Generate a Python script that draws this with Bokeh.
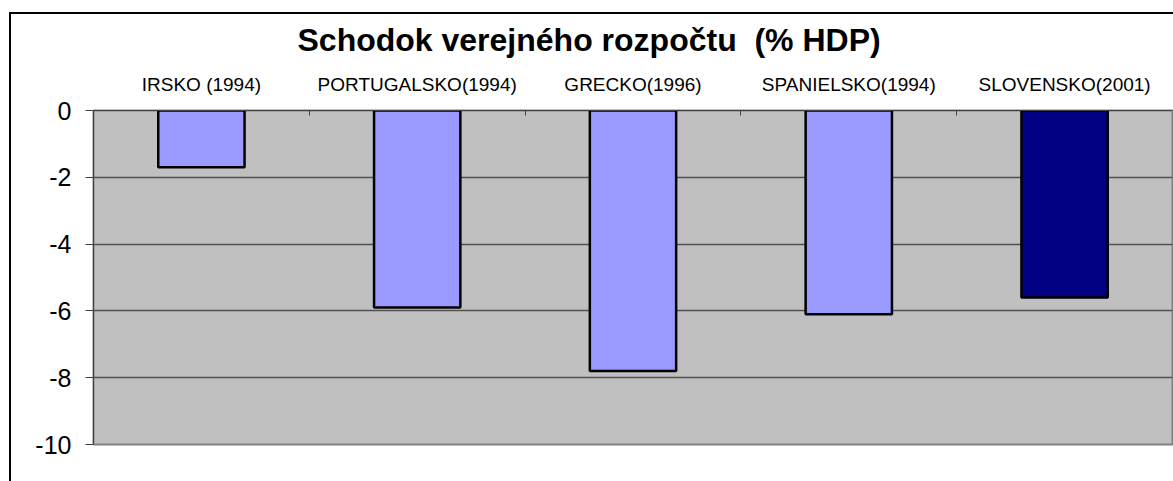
from bokeh.plotting import figure
from bokeh.models import Range1d, FixedTicker, LinearAxis, ColumnDataSource
from bokeh.embed import file_html
from bokeh.resources import INLINE

categories = ["IRSKO (1994)", "PORTUGALSKO(1994)", "GRECKO(1996)", "SPANIELSKO(1994)", "SLOVENSKO(2001)"]
deficit = [-1.7, -5.9, -7.8, -6.1, -5.6]
bar_colors = ["#9999FF", "#9999FF", "#9999FF", "#9999FF", "#000080"]
y_ticks = [0, -2, -4, -6, -8, -10]
title_text = "Schodok verejného rozpočtu\u00a0 (% HDP)"

xpos = [i + 0.5 for i in range(len(categories))]
src = ColumnDataSource(dict(x=xpos, top=[0] * len(deficit), bottom=deficit, color=bar_colors))

p = figure(width=1173, height=481, output_backend="svg", toolbar_location=None,
           x_range=Range1d(0, len(categories)), y_range=Range1d(-10, 0),
           x_axis_location=None, y_axis_location=None,
           min_border_left=93, min_border_right=1, min_border_top=110, min_border_bottom=37)
p.background_fill_color = "#C0C0C0"
p.border_fill_color = None
p.outline_line_color = "#808080"
p.outline_line_width = 2
# outer chart-area border (left and top edges), drawn behind the transparent canvas
p.styles = {
    "background-color": "white",
    "background-image": "linear-gradient(#000,#000), linear-gradient(#000,#000)",
    "background-position": "9px 12px, 9px 12px",
    "background-size": "2px 100%, 100% 2px",
    "background-repeat": "no-repeat",
}

p.vbar(x="x", top="top", bottom="bottom", width=0.4, fill_color="color",
       line_color="black", line_width=2.5, source=src)

# Y axis
yax = LinearAxis(ticker=FixedTicker(ticks=y_ticks))
yax.major_label_overrides = {t: str(t) for t in y_ticks}
yax.major_label_text_font = "Liberation Sans"
yax.major_label_text_font_size = "25px"
yax.major_label_text_color = "black"
yax.major_tick_out = 8
yax.major_tick_in = 0
yax.major_tick_line_color = "#404040"
yax.minor_tick_line_color = None
yax.axis_line_color = "#404040"
yax.major_label_standoff = 14
p.add_layout(yax, "left")

# Top category axis
xax = LinearAxis(ticker=FixedTicker(ticks=xpos, minor_ticks=list(range(1, len(categories)))))
xax.major_label_overrides = {x: c for x, c in zip(xpos, categories)}
xax.major_label_text_font = "Liberation Sans"
xax.major_label_text_font_size = "19px"
xax.major_label_text_color = "black"
xax.major_tick_line_color = None
xax.minor_tick_in = 5
xax.minor_tick_out = 0
xax.minor_tick_line_color = "#404040"
xax.axis_line_color = "#404040"
xax.major_label_standoff = 10
p.add_layout(xax, "above")

p.xgrid.visible = False
p.ygrid.ticker = FixedTicker(ticks=y_ticks)
p.ygrid.grid_line_color = "#505050"
p.ygrid.grid_line_width = 1.5

p.title.text = title_text
p.title.text_font = "Liberation Sans"
p.title.text_font_style = "bold"
p.title.text_font_size = "32px"
p.title.text_color = "black"
p.title.align = "left"
p.title.offset = 204
p.title.standoff = 26

open("out.html", "w").write(file_html(p, INLINE))
